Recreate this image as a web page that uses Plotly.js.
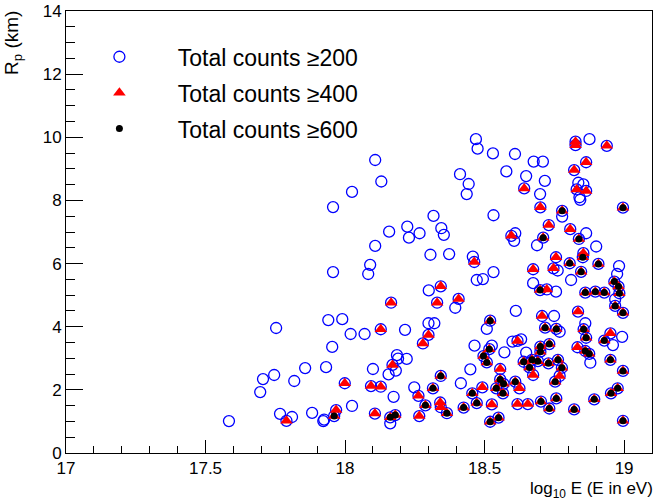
<!DOCTYPE html>
<html>
<head>
<meta charset="utf-8">
<script src="https://cdn.plot.ly/plotly-3.0.1.min.js"></script>
<style>html,body{margin:0;padding:0;background:#fff;}#chart{width:656px;height:503px;}</style>
</head>
<body>
<div id="chart"></div>
<script>
// Events with total counts >= 200 only (blue circles only)
const onlyC_E = [18.108,18.13,18.025,17.957,18.108,18.09,18.083,17.957,17.753,17.94,17.99,18.02,18.07,17.954,17.857,17.932,18.10,17.706,17.746,17.818,17.696,18.025,17.584,17.767,17.81,17.882,17.922,17.925,
18.469,18.475,18.530,18.578,18.412,18.443,18.436,18.317,18.532,18.345,18.354,18.223,18.229,18.267,18.158,18.306,18.373,18.458,18.532,18.472,18.494,18.30,
18.395,18.215,18.299,18.32,18.508,18.464,18.526,18.571,18.186,18.221,18.19,18.156,18.182,18.174,18.248,18.415,18.449,18.162,
18.876,18.609,18.676,18.709,18.649,18.716,18.699,18.836,18.854,18.84,18.843,18.778,18.61,18.606,18.864,18.688,18.90,18.762,18.982,18.975,18.81,18.674,
18.756,18.968,18.612,18.749,18.861,18.993,18.96,18.649,18.879,18.60,18.631,18.769];
const onlyC_R = [9.28,8.60,8.27,7.79,6.56,5.96,5.67,5.73,3.96,4.21,4.24,3.77,3.77,3.36,2.69,2.72,2.66,2.34,2.47,2.28,1.93,1.49,1.01,1.24,1.14,1.27,1.01,1.06,
9.94,9.64,9.49,8.92,8.83,8.52,8.20,7.51,7.53,7.12,6.91,7.17,6.82,6.96,7.01,6.28,6.30,6.22,5.73,5.48,5.51,5.15,
4.60,3.90,4.11,4.11,3.93,3.40,3.40,3.19,3.10,2.98,2.99,2.49,2.61,1.78,2.08,2.21,2.65,0.94,
9.94,9.47,9.23,9.23,8.77,8.62,8.20,8.56,8.51,8.10,8.02,7.49,6.96,6.72,6.96,6.58,6.54,5.78,5.92,5.67,5.48,5.38,
5.11,4.87,4.50,4.34,4.11,3.68,3.42,3.18,2.86,3.53,3.60,3.84];

// Events with total counts >= 400 but < 600 (red triangles)
const onlyT_E = [17.79,17.968,18.107,17.999,18.093,18.128,18.128,
18.463,18.343,
18.165,18.33,18.407,18.299,18.279,18.170,18.263,18.492,18.526,18.556,18.341,18.343,18.266,
18.826,18.826,18.938,18.864,18.821,18.642,18.83,18.864,18.70,18.730,18.807,18.596,18.854,18.756,18.747,18.674,
18.723,18.706,18.835,18.951,18.618,18.833,18.674,18.769,18.625,18.618,18.655];
const onlyT_R = [1.02,1.36,1.25,2.21,2.12,2.10,3.92,
6.05,5.28,
4.76,4.76,4.88,3.74,3.47,2.79,1.81,2.08,1.54,2.66,1.60,1.45,1.17,
9.86,9.75,9.73,9.21,8.96,8.38,8.35,8.30,7.78,7.22,7.09,6.88,6.33,6.20,5.85,5.82,
5.18,4.34,4.48,3.79,3.55,3.35,2.47,2.44,2.05,1.55,1.55];

// Events with total counts >= 600 (black dots)
const dot_E = [17.961,
18.52,18.517,18.496,18.508,18.343,18.315,18.456,18.425,18.472,18.556,18.568,18.542,18.566,18.520,18.55,18.365,18.288,18.162,18.18,
18.778,18.996,18.71,18.838,18.852,18.805,18.846,18.908,18.965,18.98,
18.699,18.861,18.897,18.929,18.983,18.968,18.996,18.717,18.757,18.855,18.864,18.929,18.70,18.70,18.732,18.861,18.875,18.64,18.67,18.691,18.729,18.763,18.777,18.661,18.61,18.753,18.951,18.953,18.977,18.996,18.893,18.821,18.757,18.732,18.702,18.996];
const dot_R = [1.17,
4.19,3.29,3.07,2.87,2.44,2.05,1.89,1.44,1.58,2.33,2.19,2.05,1.89,0.99,1.12,1.26,1.51,1.13,1.20,
7.67,7.77,6.82,6.78,6.20,6.01,5.74,5.99,5.43,5.27,
5.16,5.08,5.11,5.08,5.06,4.66,4.44,3.97,3.93,3.92,3.65,3.56,3.37,3.21,3.45,3.23,3.14,2.89,2.95,2.91,2.84,2.95,2.70,2.71,2.26,2.26,2.95,1.89,2.05,2.60,1.70,1.38,1.73,1.41,1.63,1.02];

const seriesNames = ["Total counts \u2265200","Total counts \u2265400","Total counts \u2265600"];
const xTitle = "log<sub>10</sub> E (E in eV)";
const yTitle = "R<sub>p</sub> (km)";

// cumulative sets
const c200_E = onlyC_E.concat(onlyT_E, dot_E), c200_R = onlyC_R.concat(onlyT_R, dot_R);
const c400_E = onlyT_E.concat(dot_E), c400_R = onlyT_R.concat(dot_R);

const FONT = "Liberation Sans, Arial, sans-serif";
const pad = "\u00a0\u00a0\u00a0\u00a0\u00a0\u00a0";
const traces = [
  {x:c200_E, y:c200_R, type:'scatter', mode:'markers', name:pad+seriesNames[0], legendgroup:'a',
   marker:{symbol:'circle-open', size:11, color:'#0000ff', line:{width:1.3, color:'#0000ff'}}},
  {x:c400_E, y:c400_R, type:'scatter', mode:'markers', name:pad+seriesNames[1], legendgroup:'b',
   marker:{symbol:'triangle-up', size:11, color:'#ff0000'}},
  {x:dot_E, y:dot_R, type:'scatter', mode:'markers', name:pad+seriesNames[2], legendgroup:'c',
   marker:{symbol:'circle', size:7, color:'#000000'}}
];
const layout = {
  width:656, height:503,
  margin:{l:66, r:4, t:11, b:50},
  paper_bgcolor:'#fff', plot_bgcolor:'#fff',
  font:{family:FONT, size:17, color:'#000'},
  showlegend:true,
  legend:{x:0.057, y:0.945, xanchor:'left', yanchor:'top', bgcolor:'rgba(0,0,0,0)',
          font:{family:FONT, size:23, color:'#000'}, tracegroupgap:3, itemsizing:'trace'},
  xaxis:{range:[17,19.1], tick0:17, dtick:0.5, ticks:'inside', ticklen:13, tickcolor:'#000', tickwidth:1,
         minor:{dtick:0.1, ticks:'inside', ticklen:7, tickcolor:'#000'},
         showline:true, linecolor:'#000', linewidth:1, mirror:true, showgrid:false, zeroline:false,
         tickfont:{family:FONT, size:17}},
  yaxis:{range:[0,14], tick0:0, dtick:2, ticks:'inside', ticklen:17, tickcolor:'#000', tickwidth:1,
         minor:{dtick:0.5, ticks:'inside', ticklen:9, tickcolor:'#000'},
         showline:true, linecolor:'#000', linewidth:1, mirror:true, showgrid:false, zeroline:false,
         tickfont:{family:FONT, size:17}},
  annotations:[
    {text:xTitle, xref:'paper', yref:'paper', x:1, y:0, xanchor:'right', yanchor:'top', yshift:-24, xshift:3,
     showarrow:false, font:{family:FONT, size:17}},
    {text:yTitle, xref:'paper', yref:'paper', x:0, y:1, xanchor:'right', yanchor:'top', xshift:-39, yshift:2,
     textangle:-90, showarrow:false, font:{family:FONT, size:19}}
  ]
};
Plotly.newPlot('chart', traces, layout, {displayModeBar:false, staticPlot:true});
</script>
</body>
</html>
